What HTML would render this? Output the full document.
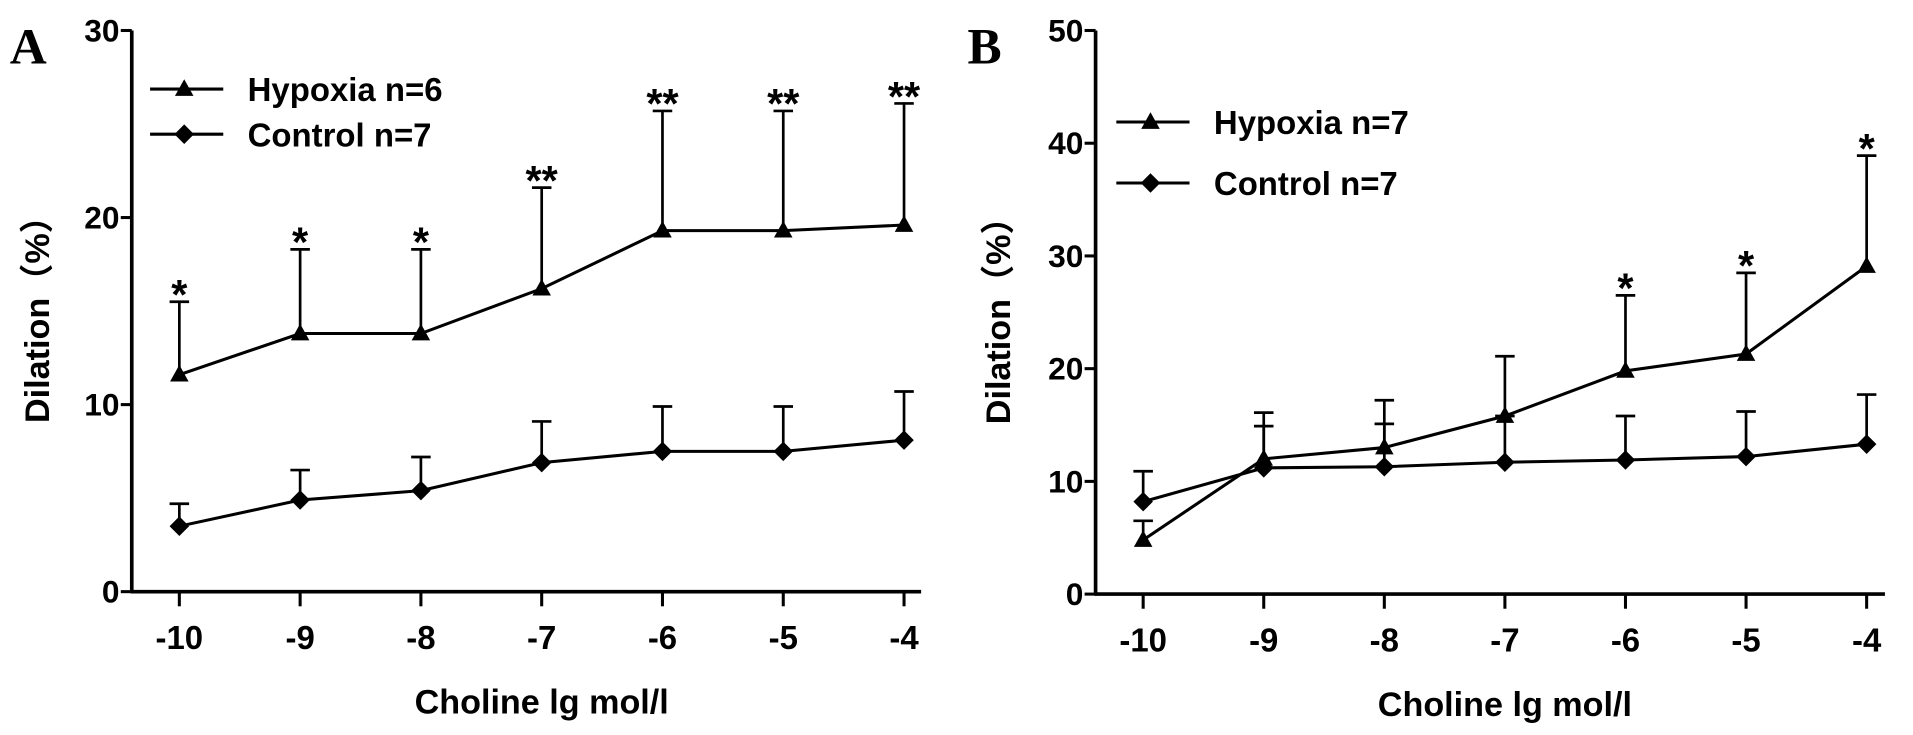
<!DOCTYPE html>
<html><head><meta charset="utf-8"><style>
html,body{margin:0;padding:0;background:#fff;}
svg{display:block;font-family:"Liberation Sans",Arial,sans-serif;}
</style></head><body>
<svg id="chart" width="1913" height="735" viewBox="0 0 1568 602.5" preserveAspectRatio="none" xmlns="http://www.w3.org/2000/svg"></svg>
<script>
const categories=[-10,-9,-8,-7,-6,-5,-4];
const aHypoxia=[11.6,13.8,13.8,16.2,19.3,19.3,19.6];
const aHypoxiaErr=[15.5,18.3,18.3,21.6,25.7,25.7,26.1];
const aControl=[3.5,4.9,5.4,6.9,7.5,7.5,8.1];
const aControlErr=[4.7,6.5,7.2,9.1,9.9,9.9,10.7];
const aStars=["*","*","*","**","**","**","**"];
const aYTicks=[0,10,20,30];
const bHypoxia=[4.8,12.0,13.0,15.8,19.8,21.3,29.1];
const bHypoxiaErr=[6.5,16.1,17.2,21.1,26.5,28.5,38.9];
const bControl=[8.2,11.2,11.3,11.7,11.9,12.2,13.3];
const bControlErr=[10.9,14.9,15.1,15.8,15.8,16.2,17.7];
const bStars=["","","","","*","*","*"];
const bYTicks=[0,10,20,30,40,50];

const svg=document.getElementById('chart');
const NS='http://www.w3.org/2000/svg';
function mk(tag,attrs,parent){const e=document.createElementNS(NS,tag);for(const k in attrs)e.setAttribute(k,attrs[k]);(parent||svg).appendChild(e);return e;}

function panel(p){
  const g=mk('g',{});
  
  
  const xs=v=>p.x0+(v-categories[0])*(p.x1-p.x0)/(categories[categories.length-1]-categories[0]);
  const ys=v=>p.y0-(v-0)*(p.y0-p.yTop)/p.yMax;
  const ya=mk('line',{x1:p.ax,y1:p.y0+1,x2:p.ax,y2:p.yTop,stroke:'#000','stroke-width':3},g);
  
  const xa=mk('line',{x1:p.ax-1,y1:p.y0,x2:p.xEnd,y2:p.y0,stroke:'#000','stroke-width':3},g);
  
  p.yTicks.forEach(t=>{
    mk('line',{x1:p.ax-9,y1:ys(t),x2:p.ax,y2:ys(t),stroke:'#000','stroke-width':2.5},g);
    const tx=mk('text',{x:p.ax-10,y:ys(t)+9,'text-anchor':'end','font-size':26,'font-weight':'bold'},g);
    tx.textContent=t;
    
  });
  categories.forEach(c=>{
    mk('line',{x1:xs(c),y1:p.y0,x2:xs(c),y2:p.y0+12,stroke:'#000','stroke-width':2.5},g);
    const tx=mk('text',{x:xs(c),y:p.y0+47,'text-anchor':'middle','font-size':27,'font-weight':'bold'},g);
    tx.textContent=c;
    
  });
  function errs(vals,tops,name){
    vals.forEach((v,i)=>{
      const e=mk('path',{d:`M${xs(categories[i])},${ys(v)}V${ys(tops[i])}M${xs(categories[i])-8},${ys(tops[i])}H${xs(categories[i])+8}`,stroke:'#000','stroke-width':2.2,fill:'none'},g);
      
    });
  }
  errs(p.hyp,p.hypErr,'hypoxia');errs(p.ctl,p.ctlErr,'control');
  function line(vals,name){
    const l=mk('polyline',{points:vals.map((v,i)=>xs(categories[i])+','+ys(v)).join(' '),stroke:'#000','stroke-width':2.5,fill:'none'},g);
    
  }
  line(p.hyp,'hypoxia');line(p.ctl,'control');
  const tri=(x,y,s)=>`M${x},${y-s}L${x+s*0.95},${y+s*0.7}L${x-s*0.95},${y+s*0.7}Z`;
  const dia=(x,y,s)=>`M${x},${y-s}L${x+s},${y}L${x},${y+s}L${x-s},${y}Z`;
  p.hyp.forEach((v,i)=>{const m=mk('path',{d:tri(xs(categories[i]),ys(v),8)},g);});
  p.ctl.forEach((v,i)=>{const m=mk('path',{d:dia(xs(categories[i]),ys(v),8)},g);});
  p.stars.forEach((s,i)=>{if(!s)return;const t=mk('text',{x:xs(categories[i]),y:ys(p.hypErr[i])+6,'text-anchor':'middle','font-size':34,'font-weight':'bold'},g);t.textContent=s;});
  [[p.leg1y,'Hypoxia n='+p.nH,tri],[p.leg2y,'Control n=7',dia]].forEach(([ly,txt,f],k)=>{
    const lg=mk('g',{},g);
    
    mk('line',{x1:p.legX,y1:ly,x2:p.legX+60,y2:ly,stroke:'#000','stroke-width':2.5},lg);
    mk('path',{d:f(p.legX+28,ly,8)},lg);
    const t=mk('text',{x:p.legX+80,y:ly+10,'font-size':27,'font-weight':'bold'},lg);t.textContent=txt;
  });
  const yl=mk('text',{x:0,y:0,transform:`translate(${p.ylx},${(p.y0+p.yTop)/2}) rotate(-90)`,'text-anchor':'middle','font-size':28,'font-weight':'bold','font-family':'"Liberation Sans","Noto Sans CJK SC",sans-serif'},g);
  yl.textContent='Dilation（%）';
  const xl=mk('text',{x:(p.x0+p.x1)/2,y:p.y0+100,'text-anchor':'middle','font-size':28,'font-weight':'bold'},g);
  xl.textContent='Choline lg mol/l';
  const pl=mk('text',{x:p.lx,y:52,'font-size':42,'font-weight':'bold','font-family':'"Liberation Serif",serif'},g);
  pl.textContent=p.id;
}
panel({id:'A',ax:108,x0:147,x1:741,xEnd:755,y0:485,yTop:25,yMax:30,yTicks:aYTicks,hyp:aHypoxia,hypErr:aHypoxiaErr,ctl:aControl,ctlErr:aControlErr,stars:aStars,legX:123,leg1y:73,leg2y:110,nH:6,ylx:40,lx:8});
panel({id:'B',ax:898,x0:937,x1:1530,xEnd:1545,y0:487,yTop:25,yMax:50,yTicks:bYTicks,hyp:bHypoxia,hypErr:bHypoxiaErr,ctl:bControl,ctlErr:bControlErr,stars:bStars,legX:915,leg1y:100,leg2y:150,nH:7,ylx:828,lx:793});
</script>
</body></html>
